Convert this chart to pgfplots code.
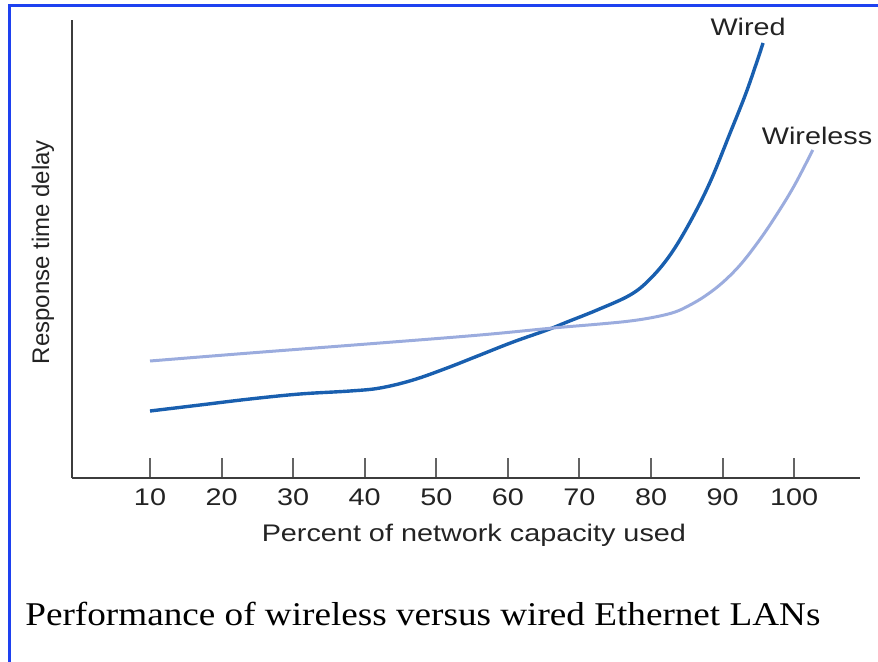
\documentclass[border=0pt]{standalone}
\usepackage{fontspec}
\setmainfont{Liberation Sans}[FakeStretch=1.2]
\newfontfamily\plainsans{Liberation Sans}
\newfontfamily\capfont{Liberation Serif}[FakeStretch=1.12]
\usepackage{pgfplots}
\pgfplotsset{compat=1.18}
\definecolor{wiredc}{RGB}{25,95,175}
\definecolor{wirelessc}{RGB}{155,172,222}
\definecolor{borderc}{RGB}{30,65,240}
\definecolor{axisg}{RGB}{60,60,60}
\definecolor{tickg}{RGB}{100,100,100}
\definecolor{textg}{RGB}{35,35,35}
\begin{document}
\begin{tikzpicture}
\useasboundingbox (0,0) rectangle (439pt,-331pt);
\begin{axis}[
  at={(36pt,-239pt)}, anchor=south west,
  scale only axis, width=394pt, height=229pt,
  xmin=-0.9, xmax=109.2, ymin=0, ymax=458,
  axis x line=bottom, axis y line=left,
  axis line style={-, line width=1pt, color=axisg},
  xtick={10,20,...,100}, ytick=\empty,
  tick align=inside, major tick length=10pt,
  tick style={line width=1pt, color=tickg},
  xticklabel style={inner sep=0pt, anchor=north, yshift=-5pt, text=textg, font=\fontsize{12}{14}\selectfont},
  /pgf/number format/assume math mode=true,
  clip=false,
]
\addplot[wiredc, line width=1.7pt, smooth, tension=0.6] coordinates {
(10,67) (16.99,73) (23.97,79) (30.96,84) (37.95,87) (42.14,90) (46.75,98)
(51.50,110) (56.12,123) (60.73,136) (65.48,148) (68.27,156) (72.47,168)
(77.08,183) (79.87,199) (82.67,223) (85.46,256) (88.26,296) (91.05,345)
(93.43,388) (95.66,435)};
\addplot[wirelessc, line width=1.5pt, smooth, tension=0.6] coordinates {
(10,117) (23.97,125) (42.14,135) (56.12,143) (66.32,150) (72.88,154)
(77.08,157) (80.57,161) (83.36,166) (85.46,173) (87.56,182) (89.93,195)
(92.45,213) (94.96,236) (97.34,261) (99.99,292) (102.60,328)};
\node[text=textg, font=\fontsize{12}{14}\selectfont, inner sep=0pt, anchor=center] at (axis cs:93.57,451) {Wired};
\node[text=textg, font=\fontsize{12}{14}\selectfont, inner sep=0pt, anchor=center] at (axis cs:103.2,342) {Wireless};
\node[text=textg, font=\fontsize{12}{14}\selectfont, inner sep=0pt, anchor=base] at (axis description cs:0.51,0) [yshift=-31.5pt] {Percent of network capacity used};
\node[xshift=-11.5pt, rotate=90, text=textg, font=\plainsans\fontsize{12}{14}\selectfont, inner sep=0pt, anchor=base] at (axis description cs:0,0.493) {Response time delay};
\end{axis}
\node[anchor=base west, inner sep=0pt] at (12.5pt,-312.5pt) {\capfont\fontsize{16.6}{20}\selectfont Performance of wireless versus wired Ethernet LANs};
\draw[line width=1.5pt, borderc] (4.5pt,-331pt) -- (4.5pt,-3pt) -- (439pt,-3pt);
\end{tikzpicture}
\end{document}
